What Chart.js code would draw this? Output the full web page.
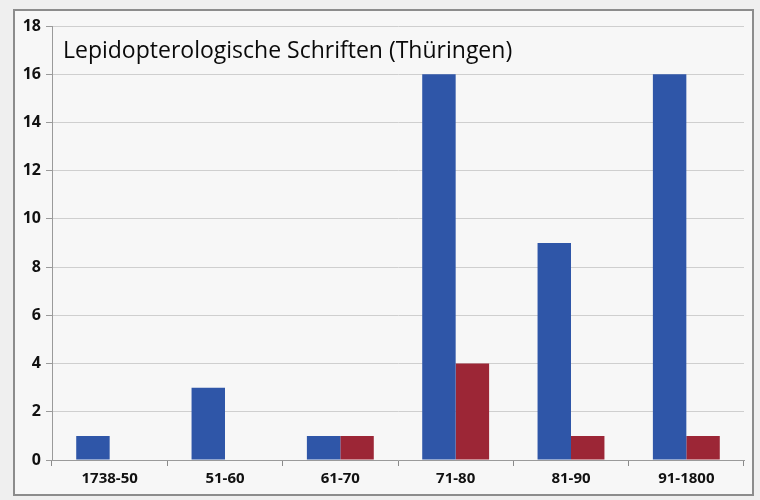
<!DOCTYPE html>
<html>
<head>
<meta charset="utf-8">
<script src="https://cdn.jsdelivr.net/npm/chart.js@4/dist/chart.umd.min.js"></script>
<style>
  html, body { margin: 0; padding: 0; background: #efefef; }
  #frame { position: absolute; left: 0; top: 0; width: 760px; height: 500px; }
  #box { position: absolute; left: 13px; top: 9px; width: 741px; height: 487px; border: 2px solid #8c8c8c; background: #f7f7f7; box-sizing: border-box; }
  canvas { position: absolute; left: 0; top: 0; }
</style>
</head>
<body>
<div id="frame">
  <div id="box"></div>
  <canvas id="chart" width="760" height="500"></canvas>
</div>
<script>
var chart_title = 'Lepidopterologische Schriften (Thüringen)';
var categories = ['1738-50', '51-60', '61-70', '71-80', '81-90', '91-1800'];
var series_blue = [1, 3, 1, 16, 9, 16];
var series_red = [0, 0, 1, 4, 1, 1];
var y_ticks = [0, 2, 4, 6, 8, 10, 12, 14, 16, 18];

// draws the title inside the plot area, top left
var inner_title = {
    id: 'inner_title',
    afterDraw: function(chart) {
        var ctx = chart.ctx;
        var area = chart.chartArea;
        ctx.save();
        ctx.fillStyle = '#0a0a0a';
        ctx.font = '23px "Open Sans", sans-serif';
        ctx.textBaseline = 'middle';
        ctx.fillText(chart_title, area.left + 11, area.top + 25);
        ctx.restore();
    }
};

const ctx = document.getElementById('chart');

const bar_chart = new Chart(ctx, {
    type: 'bar',
    data: {
        labels: categories,
        datasets: [
            {
                label: 'blau',
                data: series_blue,
                backgroundColor: '#2f56a8',
                categoryPercentage: 0.58,
                barPercentage: 1.0
            },
            {
                label: 'rot',
                data: series_red,
                backgroundColor: '#9c2636',
                categoryPercentage: 0.58,
                barPercentage: 1.0
            }
        ]
    },
    options: {
        responsive: false,
        animation: false,
        layout: { padding: { left: 14, right: 16, top: 26, bottom: 12 } },
        plugins: {
            legend: false,
            tooltip: { enabled: false }
        },
        scales: {
            x: {
                grid: {
                    display: true,
                    drawOnChartArea: false,
                    tickLength: 6,
                    color: '#8a8a8a'
                },
                border: { color: '#9a9a9a', width: 1 },
                ticks: {
                    color: '#111',
                    padding: 4,
                    font: { family: '"Open Sans", sans-serif', size: 15, weight: 'bold' }
                },
                afterFit: function(scale) { scale.height = 28; }
            },
            y: {
                min: 0,
                max: 18,
                afterBuildTicks: function(scale) {
                    scale.ticks = y_ticks.map(function(v) { return { value: v }; });
                },
                grid: {
                    color: '#cfcfcf',
                    tickLength: 6,
                    tickColor: '#9a9a9a'
                },
                border: { color: '#9a9a9a', width: 1 },
                ticks: {
                    color: '#111',
                    padding: 5,
                    font: { family: '"Open Sans", sans-serif', size: 16, weight: 'bold' }
                },
                afterFit: function(scale) { scale.width = 38; }
            }
        }
    },
    plugins: [inner_title]
});
</script>
</body>
</html>
